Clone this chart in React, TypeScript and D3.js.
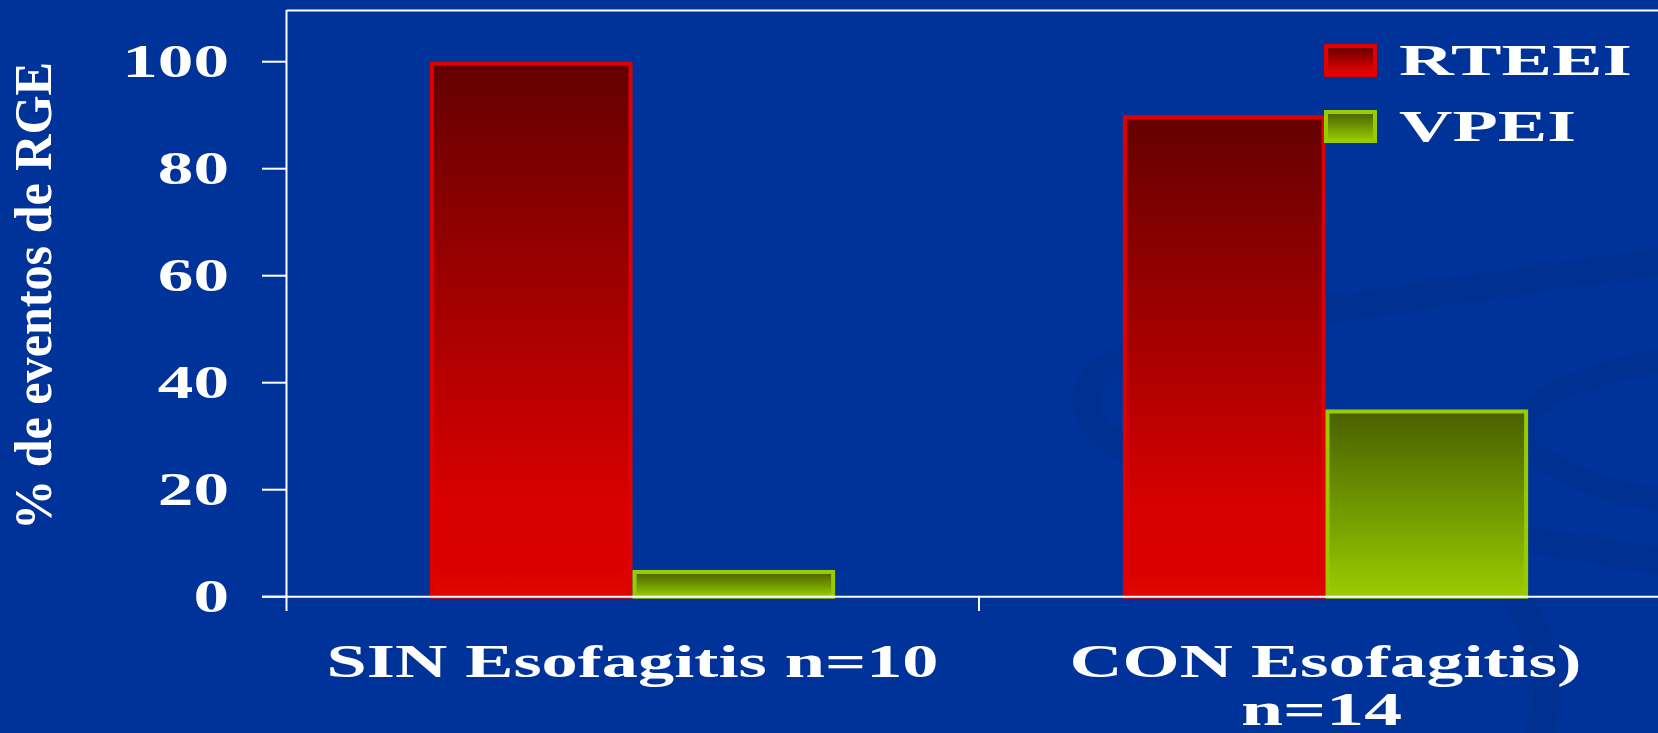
import React from "react";
import * as d3 from "d3";

const categories = ["SIN", "CON"];
const categoryLabels = [["SIN Esofagitis n=10"], ["CON Esofagitis)", "n=14"]];
const seriesNames = ["RTEEI", "VPEI"];
const rteeiValues = [100, 90];
const vpeiValues = [5, 35];
const yTicks = [0, 20, 40, 60, 80, 100];
const yTitle = "% de eventos de RGE";

const W = 1658;
const H = 733;
const FONT = "'Liberation Serif', 'Times New Roman', serif";

const seriesStyle: Record<string, { grad: string; stroke: string; stops: [number, string][] }> = {
  RTEEI: {
    grad: "gradRed",
    stroke: "#e00000",
    stops: [[0, "#640000"], [0.82, "#d80000"], [0.95, "#db0000"], [1, "#e00800"]],
  },
  VPEI: {
    grad: "gradGreen",
    stroke: "#99cc00",
    stops: [[0, "#4a6000"], [0.5, "#6e9600"], [1, "#9acc00"]],
  },
};

export default function App() {
  const x0 = d3.scaleBand<string>().domain(categories).range([286, 286 + 693 * 2]).padding(0);
  const x1 = d3
    .scaleBand<string>()
    .domain(seriesNames)
    .range([0, x0.bandwidth()])
    .paddingInner(0)
    .paddingOuter(0.71);
  const y = d3.scaleLinear().domain([0, 100]).range([596.7, 61.7]);

  const data = categories.map((c, i) => ({
    cat: c,
    values: [
      { s: "RTEEI", v: rteeiValues[i] },
      { s: "VPEI", v: vpeiValues[i] },
    ],
  }));

  const axisX = 286.5;
  const baseY = y(0);

  return (
    <svg width={W} height={H} style={{ display: "block", position: "absolute", left: 0, top: 0 }}>
      <defs>
        {seriesNames.map((s) => (
          <linearGradient key={s} id={seriesStyle[s].grad} x1="0" y1="0" x2="0" y2="1">
            {seriesStyle[s].stops.map(([o, c]) => (
              <stop key={o} offset={o} stopColor={c} />
            ))}
          </linearGradient>
        ))}
      </defs>
      <rect x={0} y={0} width={W} height={H} fill="#003399" />

      {/* subtle background swooshes */}
      <g fill="none" stroke="#00308f" strokeLinecap="round">
        <path d="M1658 262 C1450 290 1250 320 1140 350 C1080 370 1070 410 1110 440 C1180 490 1400 520 1658 560" strokeWidth={26} opacity={0.8} />
        <path d="M1658 360 C1560 380 1510 410 1525 440 C1545 470 1600 490 1658 500" strokeWidth={22} opacity={0.8} />
        <path d="M1500 580 C1540 620 1555 680 1540 733" strokeWidth={28} opacity={0.7} />
      </g>

      {/* bars */}
      {data.map((d) => (
        <g key={d.cat} transform={`translate(${x0(d.cat)},0)`}>
          {d.values.map((b) => {
            const st = seriesStyle[b.s];
            const bx = x1(b.s)!;
            const top = y(b.v);
            return (
              <rect
                key={b.s}
                x={bx + 2}
                y={top + 2}
                width={x1.bandwidth() - 4}
                height={baseY - top - 2}
                fill={`url(#${st.grad})`}
                stroke={st.stroke}
                strokeWidth={4}
              />
            );
          })}
        </g>
      ))}

      {/* axes */}
      <g stroke="#ffffff" strokeWidth={2} fill="none">
        <line x1={axisX} y1={10} x2={axisX} y2={611} />
        <line x1={axisX} y1={10.5} x2={W} y2={10.5} />
        <line x1={262} y1={baseY} x2={W} y2={baseY} />
        {yTicks.map((t) => (
          <line key={t} x1={262} y1={y(t)} x2={axisX} y2={y(t)} />
        ))}
        <line x1={x0(categories[1])!} y1={baseY} x2={x0(categories[1])!} y2={611} />
      </g>

      {/* y tick labels */}
      <g fill="#ffffff" fontFamily={FONT} fontWeight="bold" fontSize={46}>
        {yTicks.map((t) => {
          const s = String(t);
          return (
            <text
              key={t}
              x={229}
              y={y(t) + 15.5}
              textAnchor="end"
              textLength={35.6 * s.length}
              lengthAdjust="spacingAndGlyphs"
            >
              {s}
            </text>
          );
        })}
      </g>

      {/* y title */}
      <text
        transform={`translate(51,296) rotate(-90)`}
        textAnchor="middle"
        fill="#ffffff"
        fontFamily={FONT}
        fontWeight="bold"
        fontSize={53}
        textLength={468}
        lengthAdjust="spacingAndGlyphs"
      >
        {yTitle}
      </text>

      {/* x category labels */}
      <g fill="#ffffff" fontFamily={FONT} fontWeight="bold" fontSize={46}>
        {categories.map((c, i) => {
          const cx = x0(c)! + x0.bandwidth() / 2;
          const lines = categoryLabels[i];
          const lens = i === 0 ? [612] : [512, 161];
          return lines.map((ln, j) => (
            <text
              key={c + j}
              x={j === 1 ? cx - 4 : cx}
              y={676.5 + j * 48.5}
              textAnchor="middle"
              textLength={lens[j]}
              lengthAdjust="spacingAndGlyphs"
            >
              {ln}
            </text>
          ));
        })}
      </g>

      {/* legend */}
      {seriesNames.map((s, i) => {
        const st = seriesStyle[s];
        const ly = 44 + i * 66;
        return (
          <g key={s}>
            <rect x={1326} y={ly + 2} width={49} height={29} fill={`url(#${st.grad})`} stroke={st.stroke} strokeWidth={4} />
            <text
              x={1399}
              y={ly + 31}
              fill="#ffffff"
              fontFamily={FONT}
              fontWeight="bold"
              fontSize={45}
              textLength={s === "RTEEI" ? 233 : 177}
              lengthAdjust="spacingAndGlyphs"
            >
              {s}
            </text>
          </g>
        );
      })}
    </svg>
  );
}
